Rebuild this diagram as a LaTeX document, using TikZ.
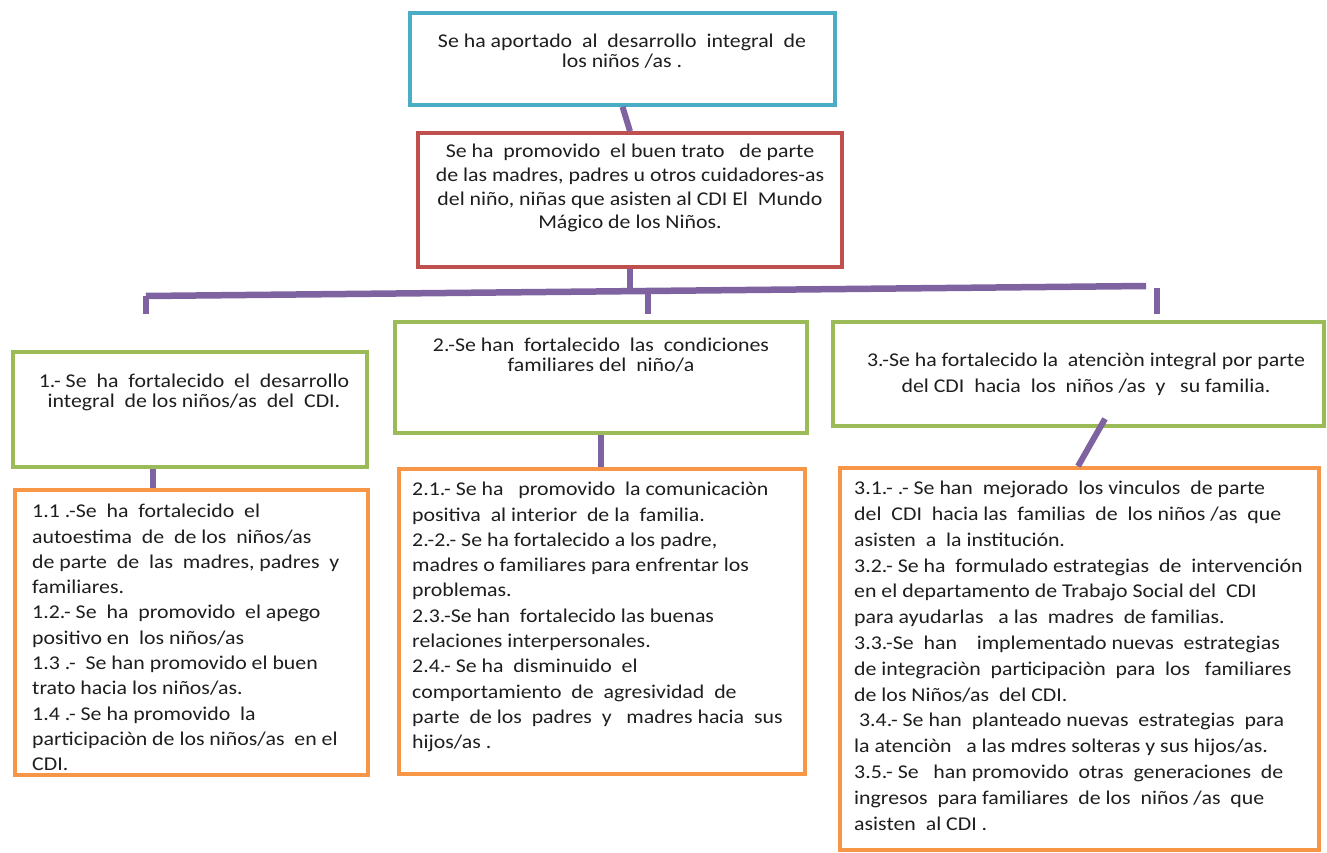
\documentclass[tikz,border=0pt]{standalone}
\usepackage{fontspec}
\setmainfont{Carlito}[FakeStretch=1.12]
\definecolor{goalblue}{HTML}{4BACC6}
\definecolor{purposered}{HTML}{C0504D}
\definecolor{resultgreen}{HTML}{9BBB59}
\definecolor{actorange}{HTML}{F79646}
\definecolor{linkpurple}{HTML}{7F63A1}
\definecolor{ink}{HTML}{1E1E1E}
\tikzset{
  box/.style={draw, line width=3.6pt, fill=white, inner sep=0pt},
  link/.style={draw=linkpurple, line width=6pt},
  bar/.style={draw=linkpurple, line width=6.5pt},
  ctext/.style={align=center, inner sep=0pt, text=ink, anchor=north},
  ltext/.style={align=left, inner sep=0pt, text=ink, anchor=north west},
  tight/.style={font=\fontsize{19.5}{19.5}\selectfont},
  mid/.style={font=\fontsize{19.5}{23.7}\selectfont},
  wide/.style={font=\fontsize{19.5}{26}\selectfont},
  loose/.style={font=\fontsize{19.5}{25.3}\selectfont},
  looser/.style={font=\fontsize{19.5}{25.8}\selectfont},
}
\begin{document}
\begin{tikzpicture}[x=1pt, y=-1pt]
\useasboundingbox (0,0) rectangle (1327,853);

% boxes
\node[box, draw=goalblue,    minimum width=425pt, minimum height=92pt]  (goal)    at (622.5,59)   {};
\node[box, draw=purposered,  minimum width=424pt, minimum height=134pt] (purpose) at (630,200)    {};
\node[box, draw=resultgreen, minimum width=354pt, minimum height=115pt] (r1)      at (190,409.5)  {};
\node[box, draw=resultgreen, minimum width=412pt, minimum height=111pt] (r2)      at (601,377.5)  {};
\node[box, draw=resultgreen, minimum width=491pt, minimum height=104pt] (r3)      at (1078.5,374) {};
\node[box, draw=actorange,   minimum width=353pt, minimum height=285pt] (a1)      at (191.5,632.5){};
\node[box, draw=actorange,   minimum width=406pt, minimum height=305pt] (a2)      at (602,621.5)  {};
\node[box, draw=actorange,   minimum width=479pt, minimum height=382pt] (a3)      at (1079.5,659) {};

% bracket joining the purpose to the three results
\coordinate (barL) at (146,296);
\coordinate (barR) at (1146,286);
\coordinate (hub)  at (630,291);
\coordinate (dropL) at (146,314);
\coordinate (topM)  at (648,291);
\coordinate (dropM) at (648,314);
\coordinate (topR)  at (1157,288);
\coordinate (dropR) at (1157,314);

\draw[link] (goal.south) -- (purpose.north);
\draw[link] (purpose.south) -- (hub);
\draw[bar] (barL) -- (barR);
\draw[link] (barL) -- (dropL);
\draw[link] (topM) -- (dropM);
\draw[link] (topR) -- (dropR);

\draw[link] ([xshift=-37pt]r1.south) -- ([xshift=-38.5pt]a1.north);
\draw[link] (r2.south) -- (r2.south |- a2.north);
\draw[link] ([xshift=26.5pt, yshift=9pt]r3.south) -- ([xshift=-1.5pt]a3.north);

% texts
\node[ctext, tight] (goalT) at (622,34)
  {Se ha aportado\ \ al\ \ desarrollo\ \ integral\ \ de\\ los niños /as .};
\node[ctext, mid] (purposeT) at (630,144)
  {Se ha\ \ promovido\ \ el buen trato\ \ \ de parte\\
   de las madres, padres u otros cuidadores-as\\
   del niño, niñas que asisten al CDI El\ \ Mundo\\
   Mágico de los Niños.};
\node[ctext, tight] (r1T) at (194,374)
  {1.- Se\ \ ha\ \ fortalecido\ \ el\ \ desarrollo\\ integral\ \ de los niños/as\ \ del\ \ CDI.};
\node[ctext, tight] (r2T) at (601,338)
  {2.-Se han\ \ fortalecido\ \ las\ \ condiciones\\ familiares del\ \ niño/a};
\node[ctext, wide] (r3T) at (1086,353)
  {3.-Se ha fortalecido la\ \ atenciòn integral por parte\\ del CDI\ \ hacia\ \ los\ \ niños /as\ \ y\ \ \ su familia.};

\node[ltext, loose] (a1T) at (32,504)
  {1.1 .-Se\ \ ha\ \ fortalecido\ \ el\\
   autoestima\ \ de\ \ de los\ \ niños/as\\
   de parte\ \ de\ \ las\ \ madres, padres\ \ y\\
   familiares.\\
   1.2.- Se\ \ ha\ \ promovido\ \ el apego\\
   positivo en\ \ los niños/as\\
   1.3 .-\ \ Se han promovido el buen\\
   trato hacia los niños/as.\\
   1.4 .- Se ha promovido\ \ la\\
   participaciòn de los niños/as\ \ en el\\
   CDI.};
\node[ltext, loose] (a2T) at (412,482)
  {2.1.- Se ha\ \ \ promovido\ \ la comunicaciòn\\
   positiva\ \ al interior\ \ de la\ \ familia.\\
   2.-2.- Se ha fortalecido a los padre,\\
   madres o familiares para enfrentar los\\
   problemas.\\
   2.3.-Se han\ \ fortalecido las buenas\\
   relaciones interpersonales.\\
   2.4.- Se ha\ \ disminuido\ \ el\\
   comportamiento\ \ de\ \ agresividad\ \ de\\
   parte\ \ de los\ \ padres\ \ y\ \ \ madres hacia\ \ sus\\
   hijos/as .};
\node[ltext, looser] (a3T) at (854,481)
  {3.1.- .- Se han\ \ mejorado\ \ los vinculos\ \ de parte\\
   del\ \ CDI\ \ hacia las\ \ familias\ \ de\ \ los niños /as\ \ que\\
   asisten\ \ a\ \ la institución.\\
   3.2.- Se ha\ \ formulado estrategias\ \ de\ \ intervención\\
   en el departamento de Trabajo Social del\ \ CDI\\
   para ayudarlas\ \ \ a las\ \ madres\ \ de familias.\\
   3.3.-Se\ \ han\ \ \ \ implementado nuevas\ \ estrategias\\
   de integraciòn\ \ participaciòn\ \ para\ \ los\ \ \ familiares\\
   de los Niños/as\ \ del CDI.\\
   \ 3.4.- Se han\ \ planteado nuevas\ \ estrategias\ \ para\\
   la atenciòn\ \ \ a las mdres solteras y sus hijos/as.\\
   3.5.- Se\ \ \ han promovido\ \ otras\ \ generaciones\ \ de\\
   ingresos\ \ para familiares\ \ de los\ \ niños /as\ \ que\\
   asisten\ \ al CDI .};
\end{tikzpicture}
\end{document}
